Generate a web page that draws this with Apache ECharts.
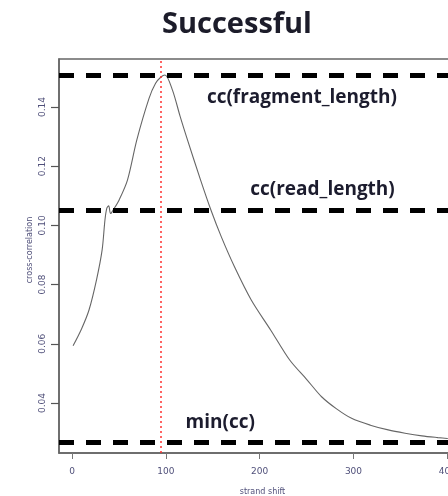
<!DOCTYPE html>
<html>
<head>
<meta charset="utf-8">
<script src="https://cdn.jsdelivr.net/npm/echarts@6/dist/echarts.min.js"></script>
<style>
html,body{margin:0;padding:0;background:#fff;overflow:hidden;}
#c{width:470px;height:496px;}
</style>
</head>
<body>
<div id="c"></div>
<script>
// Data
var strandShift = [1, 10, 18, 26, 32, 35, 37, 39, 41, 45, 50, 59, 69, 82, 89, 95, 99, 107, 115, 123, 137, 148, 159, 173, 191, 212, 232, 250, 266, 282, 298, 318, 337, 355, 373, 390, 400, 416];
var crossCorr   = [0.0593, 0.0650, 0.0714, 0.0816, 0.0917, 0.1018, 0.1058, 0.1066, 0.1040, 0.1058, 0.1085, 0.1153, 0.1289, 0.1429, 0.1480, 0.1502, 0.1508, 0.1457, 0.1370, 0.1289, 0.1153, 0.1052, 0.0962, 0.0861, 0.0748, 0.0645, 0.0545, 0.0480, 0.0421, 0.0380, 0.0348, 0.0325, 0.0309, 0.0298, 0.0289, 0.0283, 0.0280, 0.0276];
var thresholdNames  = ['cc(fragment_length)', 'cc(read_length)', 'min(cc)'];
var thresholdValues = [0.1506, 0.1051, 0.0268];
var fragmentShift = 95;
var xTicks = [0, 100, 200, 300, 400];
var yTicks = [0.04, 0.06, 0.08, 0.10, 0.12, 0.14];
var yTickLabels = ['0.04', '0.06', '0.08', '0.10', '0.12', '0.14'];
var labelAnchors = [[245, 0.1430], [267, 0.1120], [158, 0.0333]];
var yAxisTitle = 'cross-correlation';

var points = strandShift.map(function (s, i) { return [s, crossCorr[i]]; });

var chart = echarts.init(document.getElementById('c'), null, {renderer: 'canvas'});
var axisLabelColor = '#50507a';
chart.setOption({
  animation: false,
  title: {
    text: 'Successful',
    left: 157, top: 5,
    textStyle: {fontFamily: 'Open Sans', fontWeight: 'bold', fontSize: 29, color: '#1c1c2a'}
  },
  graphic: [{
    type: 'text', x: 30, y: 250, rotation: Math.PI / 2, silent: true,
    style: {text: yAxisTitle, fill: axisLabelColor, font: '8px "DejaVu Sans"', textAlign: 'center', textVerticalAlign: 'middle'}
  }],
  grid: {left: 59, top: 59, right: 4, bottom: 43, show: true, borderColor: '#666', borderWidth: 1.5, containLabel: false, outerBoundsMode: 'none'},
  xAxis: {
    type: 'value', min: -14, max: 420,
    axisLine: {show: true, onZero: false, lineStyle: {color: '#666', width: 1.5}},
    splitLine: {show: false},
    axisTick: {show: true, length: 6, lineStyle: {color: '#777', width: 1}, customValues: xTicks},
    axisLabel: {customValues: xTicks, color: axisLabelColor, fontSize: 9, margin: 14, fontFamily: 'DejaVu Sans'},
    name: 'strand shift', nameLocation: 'middle', nameGap: 35, nameMoveOverlap: false,
    nameTextStyle: {color: axisLabelColor, fontSize: 8, fontFamily: 'DejaVu Sans'}
  },
  yAxis: {
    type: 'value', min: 0.0231, max: 0.1562,
    axisLine: {show: true, onZero: false, lineStyle: {color: '#666', width: 1.5}},
    splitLine: {show: false},
    axisTick: {show: true, inside: false, length: 8, lineStyle: {color: '#555', width: 1.2}, customValues: yTicks.slice()},
    axisLabel: {customValues: yTicks.slice(), rotate: 90, color: axisLabelColor, fontSize: 9, margin: 12, fontFamily: 'DejaVu Sans',
      formatter: function (v) { var i = yTicks.findIndex(function (t) { return Math.abs(t - v) < 1e-9; }); return i >= 0 ? yTickLabels[i] : ''; }}
  },
  series: [{
    type: 'line',
    data: points,
    showSymbol: false,
    smooth: 0.3,
    lineStyle: {color: '#666', width: 1.1},
    z: 3,
    markLine: {
      silent: true, symbol: 'none', animation: false, precision: 5,
      label: {show: false},
      data: thresholdValues.map(function (v) {
        return {yAxis: v, lineStyle: {color: '#000', width: 5, type: [15, 12], cap: 'butt'}};
      }).concat([{xAxis: fragmentShift, lineStyle: {color: '#ff3030', width: 1.5, type: [2, 3]}}])
    },
    markPoint: {
      silent: true, symbol: 'circle', symbolSize: 0,
      label: {show: true, position: 'inside', fontFamily: 'Open Sans', fontWeight: 'bold', fontSize: 19, color: '#1c1c2e',
        formatter: function (p) { return p.name; }},
      data: thresholdNames.map(function (n, i) { return {name: n, coord: labelAnchors[i]}; })
    }
  }]
});
</script>
</body>
</html>
